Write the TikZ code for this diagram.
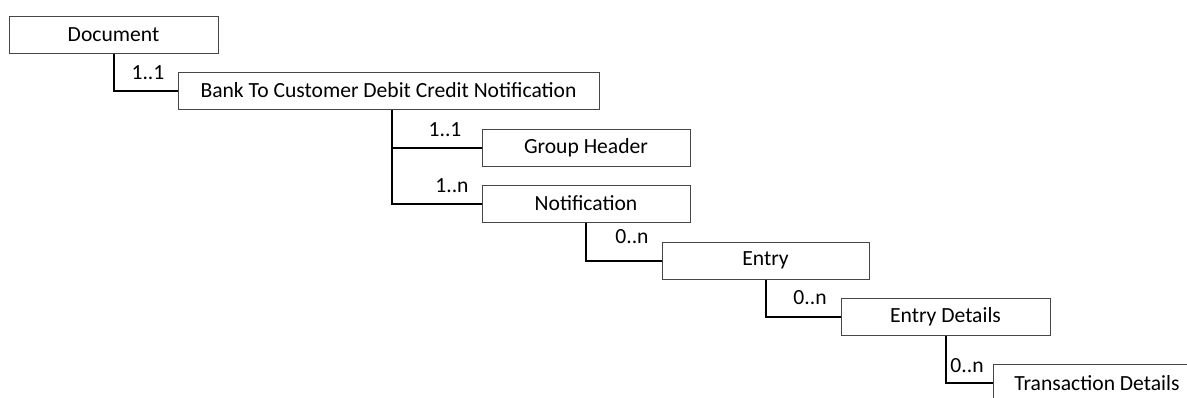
\documentclass[tikz,border=0pt]{standalone}
\usepackage{fontspec}
\setmainfont{Carlito}
\usepackage{tikz}
\definecolor{BoxLine}{RGB}{70,70,70}
\tikzstyle{TreeBox}=[rectangle,draw=BoxLine,line width=.5pt,inner sep=0pt,minimum height=18.5pt,
font=\fontsize{10.8pt}{12pt}\selectfont]
\tikzstyle{TreeEdge}=[black,line width=1pt]
\tikzstyle{Mult}=[inner sep=0pt,font=\fontsize{10.8pt}{12pt}\selectfont]

\begin{document}
\begin{tikzpicture}[x=.5pt,y=-.5pt]
        \useasboundingbox(0,0)rectangle(1187,397);
        \clip(0,0)rectangle(1187,397);
        \node[TreeBox,minimum width=104.5pt](doc)at(113.5,34.5){Document};
        \node[TreeBox,minimum width=210.5pt](btc)at(388.5,90.5){Bank To Customer Debit Credit Notification};
        \node[TreeBox,minimum width=104pt](grp)at(586,147.5){Group Header};
        \node[TreeBox,minimum width=104pt](ntf)at(586,203.5){Notification};
        \node[TreeBox,minimum width=103.5pt](ent)at(765.5,260.5){Entry};
        \node[TreeBox,minimum width=104.5pt](det)at(945.5,317){Entry Details};
        \node[TreeBox,minimum width=104pt](trx)at(1097,383){Transaction Details};
        \draw[TreeEdge](doc.south)|-(btc.west);
        \draw[TreeEdge]([xshift=1.5pt]btc.south)|-(grp.west);
        \draw[TreeEdge]([xshift=1.5pt]btc.south)|-(ntf.west);
        \draw[TreeEdge](ntf.south)|-(ent.west);
        \draw[TreeEdge](ent.south)|-(det.west);
        \draw[TreeEdge](det.south)|-(trx.west);
        \node[Mult](m1)at(148,73){1..1};
        \node[Mult](m2)at(445,130){1..1};
        \node[Mult](m3)at(452,186){1..n};
        \node[Mult](m4)at(632,237){0..n};
        \node[Mult](m5)at(810,298){0..n};
        \node[Mult](m6)at(967,366){0..n};
    \end{tikzpicture}
\end{document}
